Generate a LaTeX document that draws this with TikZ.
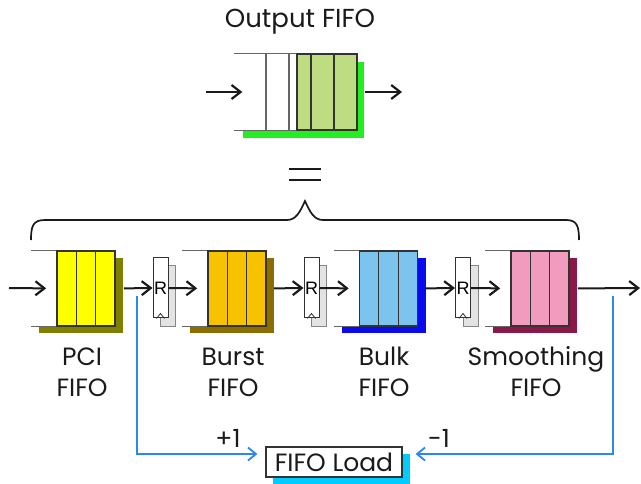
\documentclass[tikz,border=0pt]{standalone}
\usepackage{fontspec}
\setmainfont{Poppins}
\newfontfamily\rfont{Liberation Sans}
\usetikzlibrary{arrows.meta,calc}
\definecolor{inkc}{HTML}{1A1A1A}
\definecolor{greyline}{HTML}{666666}
\definecolor{cellc}{HTML}{333333}
\definecolor{pcifill}{HTML}{FFFF00}
\definecolor{pcishad}{HTML}{808000}
\definecolor{burstfill}{HTML}{F7C300}
\definecolor{burstshad}{HTML}{8C6E00}
\definecolor{bulkfill}{HTML}{7CC4EE}
\definecolor{bulkshad}{HTML}{0A0AEE}
\definecolor{smoothfill}{HTML}{F19BBE}
\definecolor{smoothshad}{HTML}{8A1848}
\definecolor{outfill}{HTML}{BEDC82}
\definecolor{outshad}{HTML}{22EE22}
\definecolor{loadshad}{HTML}{00CCFF}
\definecolor{bluec}{HTML}{2A88F0}
\definecolor{rshadc}{HTML}{E3E3E3}
\tikzset{
  arr/.style={draw=inkc,line width=2pt,-{Straight Barb[length=9pt,width=14pt,line width=2.2pt]}},
  bluearr/.style={draw=bluec,line width=1.5pt,-{Straight Barb[length=8pt,width=13pt,line width=1.8pt]}},
  fifobody/.style={draw=cellc,line width=1.6pt,minimum width=58pt,minimum height=75pt,inner sep=0pt},
  cell/.style={draw=cellc,line width=1.1pt},
  openline/.style={draw=greyline,line width=1.2pt},
  regbody/.style={draw=cellc,fill=white,line width=1pt,minimum width=15pt,minimum height=60pt,inner sep=0pt,font=\rfont\fontsize{18}{18}\selectfont},
  rshadow/.style={draw=greyline!80,fill=rshadc,line width=0.8pt},
  lbl/.style={align=center,inner sep=0pt,font=\fontsize{25}{31}\selectfont,text=inkc},
}
\newcommand\fifoq[4]{%
  \fill[#4] (#2-47,258) rectangle (#2+37,333);
  \fill[white] (#2-54,251) rectangle (#2-29,326);
  \node[fifobody,fill=#3] (#1) at (#2,288.5) {};
  \draw[cell] ($(#1.north west)!1/3!(#1.north east)$) -- ($(#1.south west)!1/3!(#1.south east)$);
  \draw[cell] ($(#1.north west)!2/3!(#1.north east)$) -- ($(#1.south west)!2/3!(#1.south east)$);
  \draw[openline] (#1.north west) -- ++(-25,0);
  \draw[openline] (#1.south west) -- ++(-25,0);
}
\newcommand\regq[2]{%
  \draw[rshadow] (#2,265) rectangle (#2+15,326);
  \node[regbody] (#1) at (#2,288) {R};
  \draw[draw=cellc,line width=0.8pt] ($(#1.south)+(-4,0)$) -- ($(#1.south)+(0,-5)$) -- ($(#1.south)+(4,0)$);
}
\begin{document}
\begin{tikzpicture}[x=1pt,y=-1pt]
\useasboundingbox (0,0) rectangle (641,484);
% ---------- Output FIFO ----------
\node[inner sep=0pt,font=\fontsize{26}{26}\selectfont,text=inkc] (title) at (300,22) {Output FIFO};
\fill[outshad] (243,62) rectangle (364,138);
\fill[white] (235,54) rectangle (297,130);
\node[draw=cellc,line width=1.3pt,fill=outfill,minimum width=60pt,minimum height=76pt,inner sep=0pt] (outfifo) at (327,92) {};
\draw[cell] (311,54) -- (311,130);
\draw[cell] (334,54) -- (334,130);
\draw[openline] (outfifo.north west) -- ++(-62,0);
\draw[openline] (outfifo.south west) -- ++(-62,0);
\draw[openline] (266,54) -- (266,130);
\draw[openline] (289,54) -- (289,130);
\coordinate (outin) at (206,92);
\coordinate (outout) at (402,92);
\draw[arr,shorten >=54pt] (outin) -- (outfifo.west);
\draw[arr,shorten <=7pt] (outfifo.east) -- (outout);
% ---------- equals and brace ----------
\draw[draw=inkc,line width=1.6pt] (289,169) -- (321,169);
\draw[draw=inkc,line width=1.6pt] (289,180) -- (321,180);
\draw[draw=inkc,line width=1.7pt] (31,240) .. controls (31,226) and (33,220) .. (45,220) -- (287,220)
  .. controls (296,220) and (300,212) .. (305,201) .. controls (310,212) and (314,220) .. (323,220)
  -- (566,220) .. controls (577,220) and (579,226) .. (579,240);
% ---------- chain ----------
\fifoq{pci}{86}{pcifill}{pcishad}
\fifoq{burst}{237}{burstfill}{burstshad}
\fifoq{bulk}{388.5}{bulkfill}{bulkshad}
\fifoq{smooth}{540}{smoothfill}{smoothshad}
\regq{r1}{160.5}
\regq{r2}{311.5}
\regq{r3}{463}
\coordinate (chin) at (9,288);
\coordinate (chout) at (640,288);
\draw[arr,shorten >=10pt] (chin) -- (pci.west);
\draw[arr,shorten <=8pt] (pci.east) -- (r1.west);
\draw[arr,shorten >=10pt] (r1.east) -- (burst.west);
\draw[arr,shorten <=7pt] (burst.east) -- (r2.west);
\draw[arr,shorten >=10pt] (r2.east) -- (bulk.west);
\draw[arr,shorten <=7pt] (bulk.east) -- (r3.west);
\draw[arr,shorten >=10pt] (r3.east) -- (smooth.west);
\draw[arr,shorten <=8pt] (smooth.east) -- (chout);
% ---------- labels ----------
\node[lbl] (lpci) at (82,372) {PCI\\FIFO};
\node[lbl] (lburst) at (233,372) {Burst\\FIFO};
\node[lbl] (lbulk) at (384,372) {Bulk\\FIFO};
\node[lbl] (lsmooth) at (536,372) {Smoothing\\FIFO};
% ---------- FIFO load ----------
\fill[loadshad] (273,454) rectangle (410,492);
\node[draw=cellc,fill=white,line width=1.2pt,minimum width=136pt,minimum height=30pt,inner sep=0pt,font=\fontsize{25}{25}\selectfont,text=inkc] (load) at (334,462) {FIFO Load};
\coordinate (tapl) at (137,296);
\coordinate (tapr) at (613,296);
\draw[bluearr,shorten >=8pt] (tapl) |- ([yshift=8pt]load.west);
\draw[bluearr,shorten >=13pt] (tapr) |- ([yshift=8pt]load.east);
\node[inner sep=0pt,font=\fontsize{25}{25}\selectfont,text=inkc] (plus) at (228,438) {+1};
\node[inner sep=0pt,font=\fontsize{25}{25}\selectfont,text=inkc] (minus) at (439,438) {-1};
\end{tikzpicture}
\end{document}
